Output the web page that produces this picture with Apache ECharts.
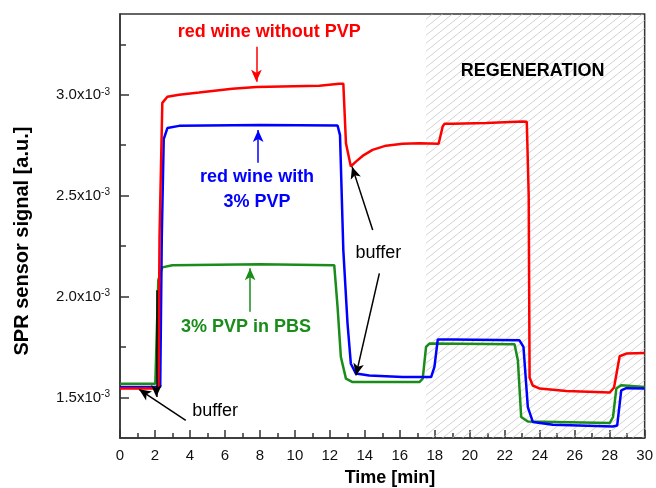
<!DOCTYPE html>
<html>
<head>
<meta charset="utf-8">
<script src="https://cdn.jsdelivr.net/npm/echarts@6/dist/echarts.min.js"></script>
<style>
  html, body { margin: 0; padding: 0; background: #fff; }
  #chart { width: 656px; height: 488px; }
</style>
</head>
<body>
<div id="chart"></div>
<script>
// SPR signal, in units of 1e-3 a.u., time in minutes
const redTime = [0, 2.2, 2.26, 2.42, 2.71, 3.38, 4.52, 6.42, 7.8, 11.4, 12.54, 12.77, 12.92, 13.2, 13.49, 13.87, 14.44, 15.21, 16.16, 17.12, 18.22, 18.45, 18.55, 19.03, 20.94, 23.03, 23.26, 23.37, 23.42, 23.6, 24.0, 25.52, 28.0, 28.25, 28.57, 28.95, 30];
const redSignal = [1.545, 1.545, 2.3, 2.96, 2.99, 3.0, 3.011, 3.03, 3.038, 3.045, 3.055, 3.055, 2.76, 2.645, 2.669, 2.697, 2.727, 2.748, 2.757, 2.76, 2.757, 2.843, 2.856, 2.856, 2.86, 2.868, 2.866, 2.5, 1.6, 1.56, 1.545, 1.533, 1.525, 1.55, 1.705, 1.718, 1.721];

const blueTime = [0, 2.3, 2.39, 2.5, 2.71, 3.38, 8, 12.44, 12.58, 12.77, 13.01, 13.2, 13.49, 14.25, 16.16, 17.79, 17.98, 18.17, 19.03, 22.84, 23.07, 23.32, 23.61, 24.75, 28.19, 28.43, 28.66, 28.95, 30];
const blueSignal = [1.553, 1.553, 2.3, 2.78, 2.835, 2.846, 2.85, 2.848, 2.8, 2.23, 1.867, 1.668, 1.619, 1.61, 1.602, 1.602, 1.652, 1.788, 1.788, 1.784, 1.751, 1.453, 1.379, 1.366, 1.357, 1.362, 1.536, 1.547, 1.545];

const greenTime = [0, 2.02, 2.19, 2.42, 2.99, 8, 12.25, 12.44, 12.63, 12.92, 13.3, 17.12, 17.31, 17.5, 17.69, 22.56, 22.75, 22.94, 23.32, 28.0, 28.19, 28.38, 28.66, 30];
const greenSignal = [1.569, 1.569, 2.082, 2.145, 2.156, 2.16, 2.156, 1.949, 1.701, 1.594, 1.577, 1.577, 1.594, 1.751, 1.768, 1.764, 1.685, 1.404, 1.382, 1.374, 1.404, 1.545, 1.561, 1.553];

const majorY = [1.5, 2.0, 2.5, 3.0];
const minorY = [1.75, 2.25, 2.75, 3.25];
const regeneration = [17.5, 30];

// annotation arrows: [from, to, colour]
const arrows = [
  [[7.8, 3.238], [7.8, 3.065], '#ff0000'],
  [[7.9, 2.663], [7.9, 2.826], '#0000ff'],
  [[7.44, 1.925], [7.44, 2.141], '#1a8c1a'],
  [[3.76, 1.387], [1.09, 1.541], '#000'],
  [[2.08, 2.032], [2.08, 1.503], '#000'],
  [[14.45, 2.33], [13.27, 2.644], '#000'],
  [[14.83, 2.115], [13.49, 1.61], '#000']
];

const notes = [
  { text: 'red wine without PVP', at: [8.53, 3.313], color: '#ff0000', bold: true },
  { text: 'red wine with\n3% PVP', at: [7.84, 2.531], color: '#0000ff', bold: true },
  { text: '3% PVP in PBS', at: [7.2, 1.849], color: '#1a8c1a', bold: true },
  { text: 'buffer', at: [5.44, 1.433], color: '#000', bold: false },
  { text: 'buffer', at: [14.77, 2.217], color: '#000', bold: false },
  { text: 'REGENERATION', at: [23.59, 3.116], color: '#000', bold: true }
];

const zip = (t, v) => t.map((x, i) => [x, v[i]]);

// diagonal hatch tile for the regeneration window
const hatch = document.createElement('canvas');
hatch.width = 10;
hatch.height = 8;
const hctx = hatch.getContext('2d');
hctx.strokeStyle = '#c6c6c6';
hctx.lineWidth = 0.8;
hctx.beginPath();
hctx.moveTo(0, 8); hctx.lineTo(10, 0);
hctx.moveTo(-5, 4); hctx.lineTo(5, -4);
hctx.moveTo(5, 12); hctx.lineTo(15, 4);
hctx.stroke();

const FONT = '"Liberation Sans", Arial, sans-serif';
const axisColor = '#333';

const chart = echarts.init(document.getElementById('chart'));

chart.setOption({
  animation: false,
  grid: {
    left: 120, right: 10, top: 14, bottom: 50,
    show: true, borderColor: axisColor, borderWidth: 1.5
  },
  xAxis: {
    type: 'value', min: 0, max: 30, interval: 2,
    axisLine: { lineStyle: { color: axisColor, width: 1.5 } },
    axisTick: { inside: true, length: 8, lineStyle: { color: axisColor, width: 1.5 } },
    minorTick: { show: true, splitNumber: 2, length: 5, lineStyle: { color: axisColor, width: 1.5 } },
    splitLine: { show: false },
    axisLabel: { color: '#111', fontSize: 15, fontFamily: FONT, margin: 10 }
  },
  yAxis: [
    {
      type: 'value', min: 1.3, max: 3.4,
      axisLine: { show: true, lineStyle: { color: axisColor, width: 1.5 } },
      axisTick: { inside: true, length: 9, customValues: majorY, lineStyle: { color: axisColor, width: 1.5 } },
      splitLine: { show: false },
      axisLabel: {
        customValues: majorY,
        margin: 10,
        formatter: (v) => '{a|' + v.toFixed(1) + 'x10}{s|-3}',
        rich: {
          a: { fontSize: 15, fontFamily: FONT, color: '#111', lineHeight: 16 },
          s: { fontSize: 10, fontFamily: FONT, color: '#111', verticalAlign: 'top', lineHeight: 10 }
        }
      }
    },
    {
      type: 'value', min: 1.3, max: 3.4, position: 'left',
      axisLine: { show: false },
      axisTick: { inside: true, length: 6, customValues: minorY, lineStyle: { color: axisColor, width: 1.5 } },
      axisLabel: { show: false },
      splitLine: { show: false }
    }
  ],
  series: [
    {
      name: '3% PVP in PBS', type: 'line', data: zip(greenTime, greenSignal),
      showSymbol: false, lineStyle: { color: '#1a8c1a', width: 2.5 },
      markArea: {
        silent: true,
        itemStyle: { color: { image: hatch, repeat: 'repeat' } },
        data: [[{ xAxis: regeneration[0] }, { xAxis: regeneration[1] }]]
      }
    },
    {
      name: 'red wine with 3% PVP', type: 'line', data: zip(blueTime, blueSignal),
      showSymbol: false, lineStyle: { color: '#0000ff', width: 2.5 }
    },
    {
      name: 'red wine without PVP', type: 'line', data: zip(redTime, redSignal),
      showSymbol: false, lineStyle: { color: '#ff0000', width: 2.5 },
      markLine: {
        silent: true,
        symbol: ['none', 'arrow'],
        symbolSize: [8, 12],
        label: { show: false },
        data: arrows.map((a) => [
          { coord: a[0], lineStyle: { color: a[2], width: 1.5, type: 'solid' }, itemStyle: { color: a[2] } },
          { coord: a[1] }
        ])
      }
    }
  ]
});

const texts = notes.map((n) => {
  const p = chart.convertToPixel({ seriesIndex: 0 }, n.at);
  return {
    type: 'text', x: p[0], y: p[1], z: 100,
    style: {
      text: n.text, fill: n.color, align: 'center', verticalAlign: 'middle',
      font: (n.bold ? 'bold ' : '') + '18px ' + FONT, lineHeight: 25
    }
  };
});

texts.push({
  type: 'text', x: 390, y: 478, z: 100,
  style: { text: 'Time [min]', fill: '#000', align: 'center', verticalAlign: 'middle', font: 'bold 18px ' + FONT }
});
texts.push({
  type: 'text', x: 22, y: 241, rotation: Math.PI / 2, z: 100,
  style: { text: 'SPR sensor signal [a.u.]', fill: '#000', align: 'center', verticalAlign: 'middle', font: 'bold 20px ' + FONT }
});

chart.setOption({ graphic: texts });
</script>
</body>
</html>
